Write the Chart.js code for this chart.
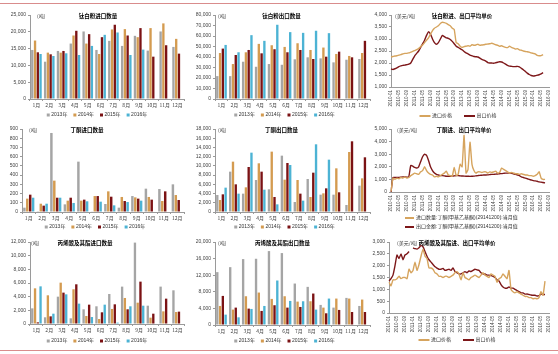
<!DOCTYPE html>
<html>
<head>
<meta charset="utf-8">
<script src="https://cdn.jsdelivr.net/npm/chart.js@4.4.0/dist/chart.umd.min.js"></script>
<style>
  body { margin: 0; background: #fff; width: 558px; height: 354px; position: relative; overflow: hidden; }
  canvas { position: absolute; }
  .rule { position: absolute; left: 0; width: 558px; height: 0; border-top: 1px solid #d98c8c; }
</style>
</head>
<body>
<div class="rule" style="top:3px"></div>
<div class="rule" style="top:350px"></div>
<script>
// categories
var months = ['1月', '2月', '3月', '4月', '5月', '6月', '7月', '8月', '9月', '10月', '11月', '12月'];
var years = ['2013年', '2014年', '2015年', '2016年'];
var priceLabels = ['进口价格', '出口价格'];
var mekPriceLabels = ['进口数量:丁酮(甲基乙基酮)(29141200):当月值', '出口金额:丁酮(甲基乙基酮)(29141200):当月值'];

// monthly date labels 2010-01 .. 2016-09
var dates = [];
for (var yy = 2010; yy <= 2016; yy++) {
    for (var mm = 1; mm <= 12; mm++) {
        if (yy === 2016 && mm > 9) break;
        dates.push(yy + '-' + (mm < 10 ? '0' + mm : mm));
    }
}

// 钛白粉进口数量 (吨)
var tioImp2013 = [14600, 11100, 14300, 16500, 20100, 14600, 17300, 15800, 18800, 14400, 20100, 15500];
var tioImp2014 = [17400, 13800, 13800, 18900, 16500, 13400, 20700, 20800, 18400, 21100, 22500, 17900];
var tioImp2015 = [13900, 13300, 14300, 20300, 19300, 18400, 22100, 18900, 21100, 12600, 16000, 13500];
var tioImp2016 = [13400, 12800, 13600, 13100, 15800, 19100, 19800, 13100, 14700];

// 钛白粉出口数量 (吨)
var tioExp2013 = [21800, 21800, 35500, 30700, 33300, 32600, 37800, 39700, 38700, 34900, 37400, 38100];
var tioExp2014 = [43800, 33300, 44500, 52500, 51200, 49600, 53100, 46700, 49000, 42900, 41000, 43800];
var tioExp2015 = [48000, 41900, 46700, 43500, 47400, 44500, 46700, 38100, 40300, 45100, 39700, 55400];
var tioExp2016 = [51500, 44500, 60800, 55400, 70700, 63700, 63000, 65000, 62700];

// 钛白粉进、出口平均单价 (美元/吨), monthly from 2010-01
var tioImpPrice = [2250, 2270, 2290, 2300, 2330, 2350, 2380, 2400, 2400, 2420, 2450, 2480,
    2520, 2560, 2600, 2680, 2750, 2850, 2950, 3050, 3200, 3350, 3450, 3500,
    3550, 3650, 3700, 3680, 3650, 3600, 3550, 3450, 3400, 2850, 2800, 2700,
    2650, 2680, 2700, 2720, 2700, 2760, 2740, 2750, 2780, 2740, 2750, 2760,
    2780, 2790, 2800, 2820, 2800, 2760, 2740, 2700, 2720, 2680, 2650, 2640,
    2700, 2650, 2620, 2580, 2600, 2550, 2530, 2500, 2480, 2470, 2450, 2420,
    2400, 2380, 2320, 2300, 2310, 2350];
var tioExpPrice = [1750, 1730, 1760, 1800, 1850, 1880, 1900, 1910, 1930, 1950, 2000, 2150,
    2300, 2400, 2500, 2650, 2800, 2950, 3150, 3300, 3200, 3000, 2850, 2780,
    2850, 3000, 3150, 3100, 3050, 3030, 2980, 2900, 2800, 2700, 2650, 2600,
    2550, 2480, 2420, 2380, 2330, 2300, 2270, 2260, 2250, 2200, 2150, 2120,
    2080, 2020, 2000, 2000, 1990, 2010, 2030, 2050, 2040, 2000, 1950, 1900,
    1870, 1860, 1850, 1850, 1860, 1840, 1780, 1720, 1650, 1580, 1520, 1480,
    1460, 1470, 1490, 1510, 1550, 1600];

// 丁酮进口数量 (吨)
var mekImp2013 = [47, 2, 857, 83, 546, 7, 87, 47, 173, 253, 249, 300];
var mekImp2014 = [145, 90, 340, 123, 123, 173, 224, 163, 159, 163, 119, 184];
var mekImp2015 = [188, 69, 155, 155, 134, 173, 166, 119, 145, 134, 224, 130];
var mekImp2016 = [155, 90, 155, 98, 116, 112, 72, 108, 123];

// 丁酮出口数量 (吨)
var mekExp2013 = [3690, 8750, 3980, 6940, 4920, 12220, 2170, 7160, 3760, 3760, 1520, 5710];
var mekExp2014 = [2600, 10920, 5350, 10560, 13090, 7010, 6940, 3250, 4050, 9470, 13010, 7300];
var mekExp2015 = [3830, 6000, 9760, 8750, 3250, 10630, 3980, 8530, 5130, 4270, 15330, 11860];
var mekExp2016 = [5280, 3980, 12870, 4840, 1660, 10190, 2460, 14680, 11350];

// 丁酮进、出口平均单价 (美元/吨)
var mekImpPrice = [50, 1100, 1000, 1100, 1050, 1150, 1100, 1200, 1100, 1150, 1300, 1400,
    1500, 1450, 1400, 1600, 1700, 2000, 1700, 1500, 1400, 1350, 1200, 1250,
    1200, 1300, 1400, 1500, 1650, 1350, 1300, 1250, 1950, 1300, 1400, 2200,
    2000, 4500, 1500, 1800, 3950, 2200, 1700, 1500, 1600, 1600, 1550, 1600,
    1600, 1500, 1600, 1550, 1600, 1650, 1500, 1550, 1900, 1800, 1700, 1600,
    1500, 1550, 1500, 1450, 1450, 1400, 1450, 1400, 1350, 1350, 1300, 1300,
    1250, 1300, 1400, 1600, 1100, 1000, 1000];
var mekExpPrice = [0, 1150, 1150, 1150, 1150, 1180, 1200, 1200, 1180, 1200, 2100, 2050,
    1950, 1900, 2000, 2400, 2800, 3000, 2900, 2500, 2000, 1700, 1500, 1400,
    1350, 1300, 1300, 1280, 1250, 1250, 1250, 1270, 1280, 1300, 1300, 1280,
    1270, 1260, 1250, 1250, 1240, 1250, 1260, 1280, 1300, 1320, 1330, 1350,
    1350, 1360, 1380, 1400, 1400, 1420, 1430, 1450, 1460, 1480, 1500, 1500,
    1500, 1480, 1450, 1400, 1350, 1300, 1200, 1150, 1100, 1050, 1000, 950,
    900, 880, 850, 800, 780, 750, 720];

// 丙烯酸及其酯进口数量 (吨)
var acrImp2013 = [2290, 980, 4000, 830, 2150, 2590, 4390, 5470, 11910, 2680, 5470, 4930];
var acrImp2014 = [5220, 4200, 6050, 5080, 1170, 730, 2200, 3810, 3120, 930, 1850, 1760];
var acrImp2015 = [240, 1120, 4590, 5810, 2830, 1710, 2880, 2150, 6200, 1510, 3710, 1810];
var acrImp2016 = [5510, 1510, 4340, 2980, 1020, 2830, 200, 2590, 2680];

// 丙烯酸及其酯出口数量 (吨)
var acrExp2013 = [12740, 13940, 15880, 15960, 17810, 17330, 9990, 9190, 4840, 4190, 6530, 4590];
var acrExp2014 = [4590, 3710, 6930, 7820, 6290, 6930, 5640, 5720, 4190, 6370, 6370, 6130];
var acrExp2015 = [7010, 4190, 3950, 3390, 4760, 4190, 4350, 7580, 2820, 3630, 3140, 3140];
var acrExp2016 = [2500, 1850, 3870, 4590, 10720, 5800, 5720, 3710, 6370];

// 丙烯酸及其酯进、出口平均单价 (美元/吨)
var acrImpPrice = [1300, 1150, 1400, 1400, 1450, 1550, 1450, 1500, 1500, 1450, 1850, 1700,
    1800, 2150, 1800, 2050, 2400, 2700, 2400, 2300, 1900, 1900, 1850, 1700,
    1650, 1550, 1550, 1500, 1550, 1550, 1500, 1550, 1600, 1700, 1750, 1650,
    1400, 1700, 1500, 1450, 1400, 1500, 1550, 1600, 1550, 1500, 1600, 1700,
    1600, 1550, 1500, 1650, 1600, 1550, 1300, 1450, 1500, 1650, 1550, 1450,
    1800, 1000, 900, 850, 900, 850, 800, 750, 700, 700, 650, 650,
    600, 620, 600, 650, 900, 750, 1350];
var acrExpPrice = [1350, 1450, 1600, 2000, 2450, 2300, 2500, 2250, 2450, 2500, 2600, null,
    2750, 2720, 2700, 2760, 2850, 2800, 2600, 2400, 2250, 2150, 2050, 1950,
    1900, 1850, 1850, 1880, 1800, 1820, 1850, 1800, 1900, 1750, 1700, 1650,
    1650, 1700, 1750, 1700, 1780, 1750, 1800, 1850, 1820, 1800, 1700, 1650,
    1650, 1600, 1600, 1580, 1550, 1500, 1400, 1350, 1200, 1100, 1050, 1050,
    1100, 1050, 1050, 1000, 950, 900, 850, 850, 800, 800, 780, 760,
    750, 750, 720, 730, 800, 780, 780];

var barColors = ['#a5a5a5', '#d49b50', '#7b1214', '#4cb3d4'];
var lineColors = ['#d6a45e', '#7d1719'];
var FONT = '"Noto Sans CJK SC", "Liberation Sans", sans-serif';
var NUMFONT = '"Liberation Sans", "Noto Sans CJK SC", sans-serif';

// titles, unit text and legends
var deco = {
    id: 'deco',
    afterDraw: function(chart, args, o) {
        var ctx = chart.ctx, a = chart.chartArea;
        ctx.save();
        ctx.textBaseline = 'middle';
        ctx.fillStyle = '#000';
        ctx.font = 'bold 5.5px ' + FONT;
        ctx.textAlign = 'center';
        ctx.fillText(o.title, (a.left + a.right) / 2 + o.titleDx, a.top + 1);
        ctx.font = '5px ' + FONT;
        ctx.textAlign = 'left';
        ctx.fillStyle = '#333';
        ctx.fillText(o.unit, a.left + o.unitDx, a.top + 1);

        var ds = chart.data.datasets;
        ctx.font = '5px ' + NUMFONT;
        ctx.fillStyle = '#333';
        if (o.legend === 'rows') {
            ds.forEach(function(d, i) {
                var y = o.legendY + i * 9;
                ctx.strokeStyle = d.borderColor;
                ctx.lineWidth = 2;
                ctx.beginPath();
                ctx.moveTo(o.legendX, y);
                ctx.lineTo(o.legendX + 9, y);
                ctx.stroke();
                ctx.fillText(d.label, o.legendX + 11, y);
            });
        } else {
            var mark = o.legend === 'line' ? 11 : 3;
            var gap = o.legend === 'line' ? 12 : 6;
            var widths = ds.map(function(d) { return mark + 1.5 + ctx.measureText(d.label).width; });
            var total = widths.reduce(function(s, w) { return s + w; }, 0) + gap * (ds.length - 1);
            var x = (a.left + a.right) / 2 + o.legendDx - total / 2;
            ds.forEach(function(d, i) {
                if (o.legend === 'line') {
                    ctx.strokeStyle = d.borderColor;
                    ctx.lineWidth = 2;
                    ctx.beginPath();
                    ctx.moveTo(x, o.legendY);
                    ctx.lineTo(x + mark, o.legendY);
                    ctx.stroke();
                } else {
                    ctx.fillStyle = d.backgroundColor;
                    ctx.fillRect(x, o.legendY - 1.5, 3, 3);
                }
                ctx.fillStyle = '#333';
                ctx.fillText(d.label, x + mark + 1.5, o.legendY);
                x += widths[i] + gap;
            });
        }
        ctx.restore();
    }
};

function makePanel(p) {
    var box = p.box, area = p.area;
    var cv = document.createElement('canvas');
    cv.width = box[2];
    cv.height = box[3];
    cv.style.left = box[0] + 'px';
    cv.style.top = box[1] + 'px';
    document.body.appendChild(cv);

    var yw = area[0] - box[0];
    var isLine = p.type === 'line';
    var datasets = p.series.map(function(s, i) {
        if (isLine) {
            return {
                label: p.labels[i], data: s, borderColor: lineColors[i], backgroundColor: lineColors[i],
                borderWidth: 1.4, pointRadius: 0, tension: 0.15, spanGaps: false
            };
        }
        return {
            label: p.labels[i], data: s, backgroundColor: barColors[i],
            barPercentage: 0.85, categoryPercentage: 0.86
        };
    });

    new Chart(cv, {
        type: isLine ? 'line' : 'bar',
        data: { labels: isLine ? dates : months, datasets: datasets },
        plugins: [deco],
        options: {
            responsive: false,
            animation: false,
            devicePixelRatio: 1,
            layout: {
                padding: {
                    left: 0,
                    top: area[1] - box[1],
                    right: box[0] + box[2] - area[2],
                    bottom: box[1] + box[3] - area[3] - p.xh
                }
            },
            plugins: {
                legend: { display: false },
                tooltip: { enabled: false },
                deco: {
                    title: p.title, titleDx: p.titleDx, unit: p.unit, unitDx: p.unitDx,
                    legend: p.legend, legendY: p.legendY - box[1],
                    legendX: (p.legendX || 0) - box[0], legendDx: p.legendDx || 0
                }
            },
            scales: {
                x: {
                    offset: !isLine,
                    afterFit: function(s) { s.height = p.xh; },
                    border: { display: true, color: '#9a9a9a', width: 1 },
                    grid: { display: !isLine, drawOnChartArea: false, tickLength: 2, color: '#9a9a9a' },
                    ticks: isLine ? {
                        autoSkip: false, minRotation: 90, maxRotation: 90, padding: 1,
                        color: '#444', font: { size: 4.5, family: NUMFONT },
                        callback: function(v, i) { return i % 4 === 0 ? dates[i] : ''; }
                    } : {
                        autoSkip: false, minRotation: 0, maxRotation: 0,
                        padding: 1, color: '#444', font: { size: 5, family: FONT }
                    }
                },
                y: {
                    min: p.yMin || 0,
                    max: p.yMax,
                    afterFit: function(s) { s.width = yw; },
                    border: { display: true, color: '#9a9a9a', width: 1 },
                    grid: { drawOnChartArea: false, tickLength: 2, color: '#9a9a9a' },
                    ticks: {
                        stepSize: p.yStep, padding: 2, color: '#444',
                        font: { size: 5, family: NUMFONT },
                        callback: function(v) { return v.toLocaleString('en-US'); }
                    }
                }
            }
        }
    });
}

makePanel({ type: 'bar', box: [0, 5, 186, 113], area: [30, 15, 184, 99], xh: 9,
    title: '钛白粉进口数量', titleDx: -9, unit: '(吨)', unitDx: 7,
    labels: years, series: [tioImp2013, tioImp2014, tioImp2015, tioImp2016],
    yMax: 25000, yStep: 5000, legend: 'box', legendY: 115, legendDx: -10 });

makePanel({ type: 'bar', box: [186, 5, 186, 113], area: [215, 15, 370, 99], xh: 9,
    title: '钛白粉出口数量', titleDx: -11, unit: '(吨)', unitDx: 3,
    labels: years, series: [tioExp2013, tioExp2014, tioExp2015, tioExp2016],
    yMax: 80000, yStep: 10000, legend: 'box', legendY: 115, legendDx: -8 });

makePanel({ type: 'line', box: [372, 5, 186, 113], area: [391, 15, 549, 87], xh: 24,
    title: '钛白粉进、出口平均单价', titleDx: -8, unit: '(美元/吨)', unitDx: 4,
    labels: priceLabels, series: [tioImpPrice, tioExpPrice],
    yMin: 1000, yMax: 4000, yStep: 500, legend: 'line', legendY: 116, legendDx: -12 });

makePanel({ type: 'bar', box: [0, 118, 186, 118], area: [22, 129, 184, 212], xh: 9,
    title: '丁酮进口数量', titleDx: -16, unit: '(吨)', unitDx: 7,
    labels: years, series: [mekImp2013, mekImp2014, mekImp2015, mekImp2016],
    yMax: 900, yStep: 100, legend: 'box', legendY: 227, legendDx: -8 });

makePanel({ type: 'bar', box: [186, 118, 186, 118], area: [215, 129, 370, 212], xh: 9,
    title: '丁酮出口数量', titleDx: -11, unit: '(吨)', unitDx: 3,
    labels: years, series: [mekExp2013, mekExp2014, mekExp2015, mekExp2016],
    yMax: 18000, yStep: 2000, legend: 'box', legendY: 227, legendDx: -8 });

makePanel({ type: 'line', box: [372, 118, 186, 118], area: [391, 129, 549, 192], xh: 22,
    title: '丁酮进、出口平均单价', titleDx: -6, unit: '(美元/吨)', unitDx: 6,
    labels: mekPriceLabels, series: [mekImpPrice, mekExpPrice],
    yMax: 5000, yStep: 500, legend: 'rows', legendY: 218, legendX: 405 });

makePanel({ type: 'bar', box: [0, 236, 186, 112], area: [30, 242, 184, 324], xh: 9,
    title: '丙烯酸及其酯进口数量', titleDx: -22, unit: '(吨)', unitDx: 1,
    labels: years, series: [acrImp2013, acrImp2014, acrImp2015, acrImp2016],
    yMax: 12000, yStep: 2000, legend: 'box', legendY: 341, legendDx: -10 });

makePanel({ type: 'bar', box: [186, 236, 186, 112], area: [215, 242, 370, 325], xh: 9,
    title: '丙烯酸及其酯出口数量', titleDx: -10, unit: '(吨)', unitDx: 3,
    labels: years, series: [acrExp2013, acrExp2014, acrExp2015, acrExp2016],
    yMax: 20000, yStep: 2000, legend: 'box', legendY: 341, legendDx: -8 });

makePanel({ type: 'line', box: [372, 236, 186, 112], area: [389, 242, 549, 313], xh: 22,
    title: '丙烯酸及其酯进、出口平均单价', titleDx: -12, unit: '(美元/吨)', unitDx: 8,
    labels: priceLabels, series: [acrImpPrice, acrExpPrice],
    yMax: 3000, yStep: 500, legend: 'line', legendY: 340, legendDx: -12 });
</script>
</body>
</html>
